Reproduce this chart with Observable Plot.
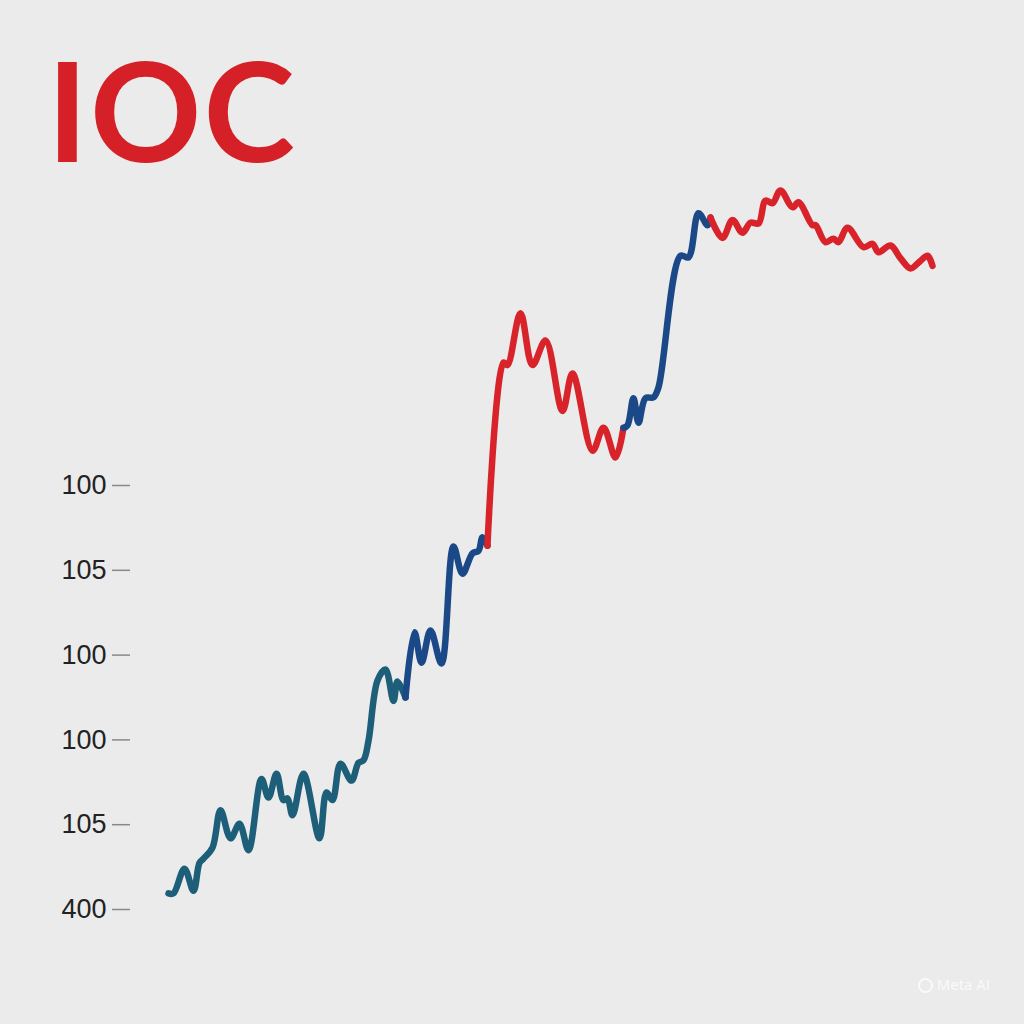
<!DOCTYPE html>
<html>
<head>
<meta charset="utf-8">
<script src="https://cdn.jsdelivr.net/npm/d3@7"></script>
<script src="https://cdn.jsdelivr.net/npm/@observablehq/plot@0.6"></script>
<style>
  html, body { margin: 0; padding: 0; background: #ebebeb; width: 1024px; height: 1024px; overflow: hidden; }
  #title { height: 180px; box-sizing: border-box; padding-top: 40px; padding-left: 47px; font-family: Lato, sans-serif; font-weight: 700; font-size: 138px; line-height: 138px; letter-spacing: 2px; color: #d62027; margin: 0; }
  #chart svg { display: block; }
  #caption { height: 64px; box-sizing: border-box; padding-top: 14px; padding-right: 34px; text-align: right; font-family: "Open Sans", sans-serif; font-size: 15px; color: #fafafa; }
  #caption .ring { display: inline-block; width: 11px; height: 11px; border: 2px solid #fafafa; border-radius: 50%; vertical-align: -3px; margin-right: 4px; }
</style>
</head>
<body>
<div id="title">IOC</div>
<div id="chart"></div>
<div id="caption"><span class="ring"></span>Meta AI</div>
<script>
// Tick labels as printed on the chart (bottom to top)
const tickValues = [0, 1, 2, 3, 4, 5];
const tickLabels = ["400", "105", "100", "100", "105", "100"];

// Series: time index and value (in tick units)
const days = [0, 0.65, 2.09, 3.27, 4.06, 4.58, 5.76, 6.81, 8.12, 9.29, 10.47, 12.17, 13.09, 14.14, 15.05, 15.58, 16.23, 17.67, 19.76, 20.68, 21.47, 22.51, 23.95, 24.87, 25.52, 26.18, 27.36, 28.40, 29.45, 29.97, 31.02,
  32.20, 33.12, 34.29, 35.73, 37.30, 38.48, 39.79, 40.58, 41.10, 41.75,
  43.85, 44.37, 46.07, 47.64, 49.35, 51.57, 52.88, 55.50, 56.94, 58.51, 59.55,
  60.08, 60.86, 61.52, 62.43, 63.48, 64.14, 67.02, 68.06, 69.37, 70.55, 70.94,
  72.51, 73.82, 75.13, 76.18, 77.23, 78.14, 79.06, 80.10, 81.68, 82.46, 84.29, 84.69, 85.99, 87.04, 87.70, 88.87, 90.97, 92.15, 92.93, 94.50, 95.81, 97.12, 98.43, 99.35, 100];
const values = [0.19, 0.19, 0.48, 0.22, 0.55, 0.60, 0.73, 1.17, 0.84, 1.01, 0.70, 1.54, 1.32, 1.60, 1.29, 1.31, 1.11, 1.60, 0.84, 1.38, 1.29, 1.72, 1.52, 1.73, 1.76, 1.99, 2.70, 2.83, 2.46, 2.69, 2.50,
  3.27, 2.91, 3.29, 2.90, 4.28, 3.96, 4.20, 4.23, 4.39, 4.29,
  6.45, 6.42, 7.03, 6.42, 6.71, 5.88, 6.32, 5.41, 5.68, 5.33, 5.68,
  5.71, 6.03, 5.74, 6.03, 6.04, 6.16, 7.71, 7.69, 8.21, 8.07, 8.16,
  7.92, 8.13, 7.98, 8.10, 8.09, 8.36, 8.33, 8.48, 8.28, 8.34, 8.07, 8.07, 7.87, 7.91, 7.87, 8.04, 7.81, 7.85, 7.75, 7.83, 7.68, 7.56, 7.65, 7.71, 7.59];

// Segments: start index (inclusive) and regime
const segmentStarts = [0, 30, 40, 51, 62];
const segmentRegimes = ["early", "rally", "pullback", "rally", "pullback"];
const regimeNames = ["early", "rally", "pullback"];

const rows = [];
segmentStarts.forEach((s, k) => {
  const e = k + 1 < segmentStarts.length ? segmentStarts[k + 1] : days.length - 1;
  for (let i = s; i <= e; i++) rows.push({day: days[i], value: values[i], seg: k, regime: segmentRegimes[k]});
});

const chart = Plot.plot({
  width: 1024,
  height: 780,
  marginLeft: 130,
  marginTop: 0,
  marginBottom: 0,
  marginRight: 0,
  style: {background: "transparent", fontFamily: "Liberation Sans, Arial, sans-serif"},
  x: {domain: [0, 100], range: [168, 932], axis: null},
  y: {domain: [0, 5], range: [729, 305], axis: null},
  color: {domain: regimeNames, range: ["#1d5f79", "#1b4987", "#d8232b"]},
  marks: [
    Plot.axisY({ticks: tickValues, tickFormat: (d) => tickLabels[d], label: null, tickSize: 18, tickPadding: 6, fontSize: 27, stroke: "#888", color: "#222", strokeWidth: 1.5}),
    Plot.line(rows, {x: "day", y: "value", z: "seg", stroke: "regime", strokeWidth: 6.5, curve: "catmull-rom", strokeLinejoin: "round", strokeLinecap: "round"})
  ]
});
document.getElementById("chart").appendChild(chart);
</script>
</body>
</html>
